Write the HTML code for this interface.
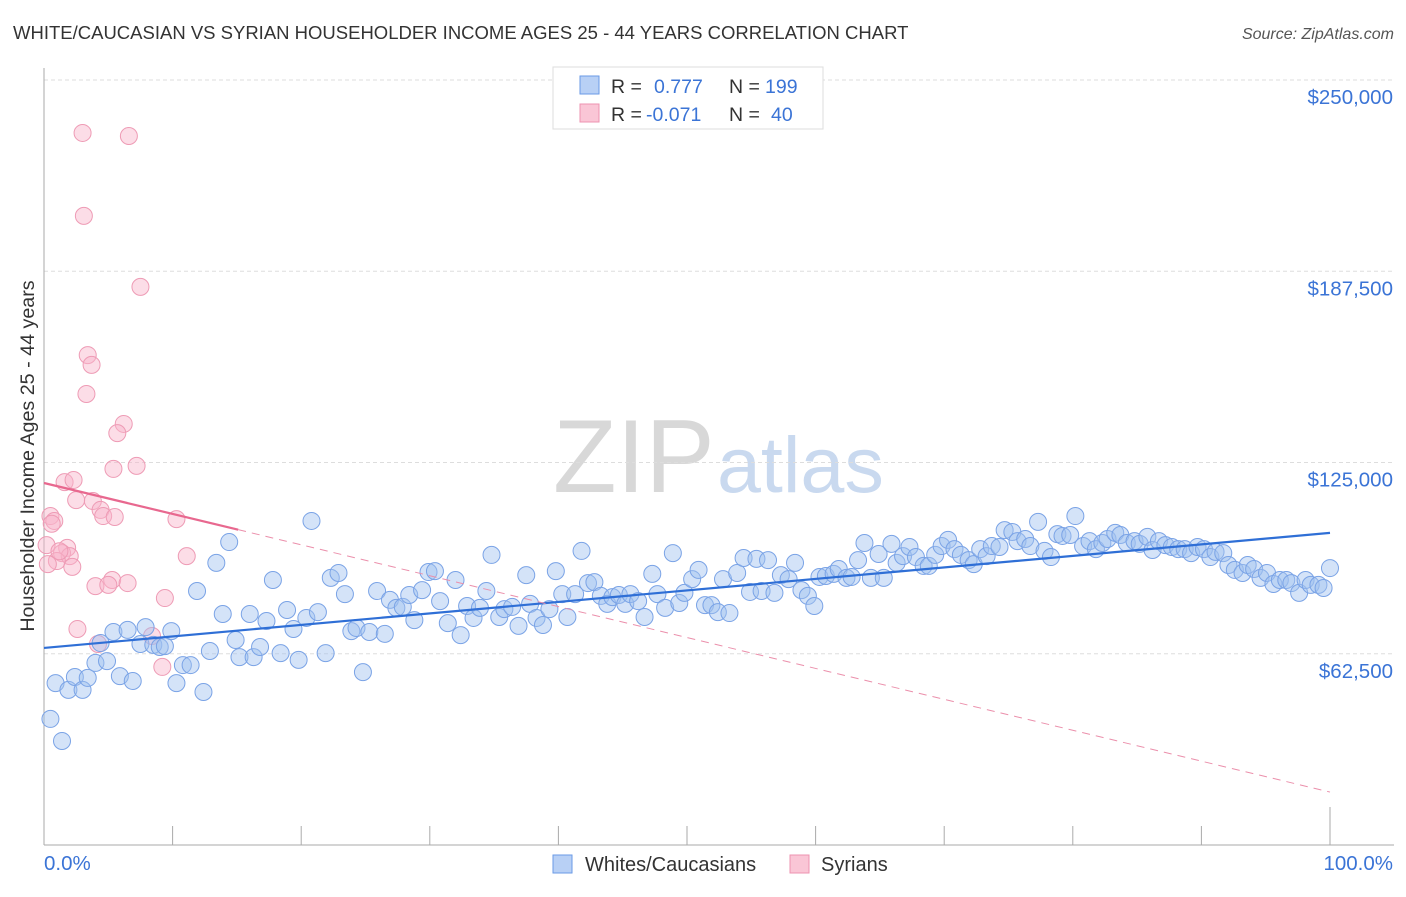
<!DOCTYPE html>
<html><head><meta charset="utf-8">
<style>
body{margin:0;background:#fff;font-family:"Liberation Sans",sans-serif;}
svg text{font-family:"Liberation Sans",sans-serif;}
</style></head>
<body>
<svg id="chart" width="1406" height="892" viewBox="0 0 1406 892">
  <text x="13" y="39" font-size="18.5" fill="#333">WHITE/CAUCASIAN VS SYRIAN HOUSEHOLDER INCOME AGES 25 - 44 YEARS CORRELATION CHART</text>
  <text x="1394" y="39" font-size="16" fill="#555" font-style="italic" text-anchor="end">Source: ZipAtlas.com</text>
  <g>
    <text x="553" y="492" font-size="104" fill="#d8d8d8" font-family="Liberation Serif, serif">ZIP</text>
    <text x="717" y="492" font-size="79" fill="#c9d9ef">atlas</text>
  </g>
  <g id="grid"></g>
  <g id="axes"></g>
  <g id="pinkpts"></g>
  <g id="bluepts"></g>
  <g id="lines"></g>
  <text transform="translate(34,456) rotate(-90)" font-size="19.7" fill="#333" text-anchor="middle">Householder Income Ages 25 - 44 years</text>
  <g>
    <rect x="553" y="67" width="270" height="62" fill="#fff" stroke="#ddd"/>
    <rect x="580" y="76" width="19" height="18" fill="#b8d0f5" stroke="#6a9ae6"/>
    <rect x="580" y="104" width="19" height="18" fill="#fac6d6" stroke="#ee93b0"/>
    <text x="611" y="93" font-size="19.5" fill="#333">R = <tspan x="654" fill="#3b74d6">0.777</tspan><tspan x="729" fill="#333">N =</tspan><tspan x="765" fill="#3b74d6">199</tspan></text>
    <text x="611" y="121" font-size="19.5" fill="#333">R = <tspan x="646" fill="#3b74d6">-0.071</tspan><tspan x="729" fill="#333">N =</tspan><tspan x="771" fill="#3b74d6">40</tspan></text>
  </g>
  <g>
    <rect x="553" y="855" width="19" height="18" fill="#b8d0f5" stroke="#6a9ae6"/>
    <text x="585" y="871" font-size="20" fill="#333">Whites/Caucasians</text>
    <rect x="790" y="855" width="19" height="18" fill="#fac6d6" stroke="#ee93b0"/>
    <text x="821" y="871" font-size="20" fill="#333">Syrians</text>
  </g>
</svg>
<script>
const yTicks=[62500,125000,187500,250000];
const yTickLabels=["$62,500","$125,000","$187,500","$250,000"];
const xTickLabels=["0.0%","100.0%"];
const blueX=[0.5,1.4,0.9,1.9,2.4,3.0,3.4,4.0,4.4,4.9,5.4,5.9,6.5,6.9,7.5,7.9,8.5,9.0,9.4,9.9,10.3,10.8,11.4,11.9,12.4,12.9,13.4,13.9,14.4,14.9,15.2,16.0,16.3,16.8,17.3,17.8,18.4,18.9,19.4,19.8,20.4,20.8,21.3,21.9,22.3,22.9,23.4,23.9,24.3,24.8,25.3,25.9,26.5,26.9,27.4,27.9,28.4,28.8,29.4,29.9,30.4,30.8,31.4,32.0,32.4,32.9,33.4,33.9,34.4,34.8,35.4,35.8,36.4,36.9,37.5,37.8,38.3,38.8,39.3,39.8,40.3,40.7,41.3,41.8,42.3,42.8,43.3,43.8,44.2,44.7,45.2,45.6,46.2,46.7,47.3,47.7,48.3,48.9,49.4,49.8,50.4,50.9,51.4,51.9,52.4,52.8,53.3,53.9,54.4,54.9,55.4,55.8,56.3,56.8,57.3,57.9,58.4,58.9,59.4,59.9,60.3,60.8,61.4,61.8,62.4,62.8,63.3,63.8,64.3,64.9,65.3,65.9,66.3,66.8,67.3,67.8,68.4,68.8,69.3,69.8,70.3,70.8,71.3,71.9,72.3,72.8,73.3,73.7,74.3,74.7,75.3,75.7,76.3,76.7,77.3,77.8,78.3,78.8,79.2,79.8,80.2,80.8,81.3,81.8,82.3,82.7,83.3,83.7,84.2,84.8,85.2,85.8,86.2,86.7,87.2,87.7,88.2,88.7,89.2,89.7,90.2,90.7,91.1,91.7,92.1,92.6,93.2,93.6,94.1,94.6,95.1,95.6,96.1,96.6,97.0,97.6,98.1,98.5,99.1,99.5,100.0];
const blueY=[41.2,34.0,52.9,50.7,54.9,50.7,54.6,59.5,66.0,60.1,69.6,55.2,70.3,53.6,65.7,71.2,65.4,64.7,65.0,69.9,52.9,58.8,58.8,83.0,50.0,63.4,92.2,75.5,99.0,67.0,61.4,75.5,61.4,64.7,73.2,86.6,62.7,76.8,70.6,60.5,74.2,105.9,76.1,62.7,87.3,88.9,82.0,69.9,70.9,56.5,69.6,83.0,69.0,80.1,77.5,77.8,81.7,73.5,83.3,89.2,89.5,79.7,72.5,86.6,68.6,78.1,74.2,77.5,83.0,94.8,74.5,77.1,77.8,71.6,88.2,78.8,74.2,71.9,77.1,89.5,82.0,74.5,82.0,96.1,85.6,85.9,81.4,78.8,81.0,81.7,78.8,82.0,79.7,74.5,88.6,82.0,77.5,95.4,79.1,82.4,86.9,89.9,78.4,78.4,76.1,86.9,75.8,88.9,93.8,82.7,93.5,83.0,93.1,82.4,88.2,86.9,92.2,83.3,81.4,78.1,87.6,87.9,88.6,90.2,87.3,87.6,93.1,98.7,87.3,95.1,87.3,98.4,92.2,94.4,97.4,94.1,91.2,91.2,94.8,97.7,99.7,96.7,94.8,93.1,91.8,96.7,94.4,97.7,97.4,102.9,102.3,99.3,100.0,97.7,105.6,96.1,94.1,101.6,101.0,101.3,107.5,97.7,99.3,96.7,98.7,100.0,102.0,101.3,98.7,99.3,98.4,100.7,96.4,99.3,98.0,97.4,96.7,96.7,95.4,97.4,96.7,94.1,95.8,95.4,91.5,89.9,88.9,91.5,90.2,87.3,88.9,85.3,86.6,86.6,85.6,82.4,86.6,85.0,85.0,84.0,90.5];
const pinkX=[3.0,6.6,3.1,7.5,3.4,3.7,3.3,6.2,5.7,7.2,5.4,1.6,2.3,2.5,3.8,0.5,0.8,4.4,4.6,5.5,10.3,0.2,1.8,1.4,2.0,1.0,0.3,2.2,11.1,5.3,4.0,5.0,6.5,9.4,2.6,8.4,4.2,9.2,0.6,1.2];
const pinkY=[232.7,231.7,205.6,182.4,160.1,156.9,147.4,137.6,134.6,123.9,122.9,118.6,119.3,112.7,112.4,107.5,105.9,109.5,107.5,107.2,106.5,98.0,97.1,95.4,94.4,92.8,91.8,90.9,94.4,86.6,84.6,85.0,85.6,80.7,70.6,68.3,65.7,58.2,105.0,96.0];
const blueTrend=[64.4,102.0];
const pinkTrend=[118.3,17.3];
const pinkSolidEnd=15.1;

const NS="http://www.w3.org/2000/svg";
const X0=44,X1=1330,YB=845,YT=80;
function sx(p){return X0+(X1-X0)*p/100;}
function sy(v){return YB-(YB-YT)*v/250000;}
function mk(tag,attrs,parent){const e=document.createElementNS(NS,tag);for(const k in attrs)e.setAttribute(k,attrs[k]);parent.appendChild(e);return e;}
const grid=document.getElementById('grid'),axes=document.getElementById('axes');
yTicks.forEach((t,i)=>{
  const l=mk('line',{x1:X0,x2:1394,y1:sy(t),y2:sy(t),stroke:'#ddd','stroke-dasharray':'4,3'},grid);
  
  
  const tx=mk('text',{x:1393,y:sy(t)+24,'font-size':20.5,fill:'#3b74d6','text-anchor':'end'},axes);
  tx.textContent=yTickLabels[i];
  
  
});
const ya=mk('line',{x1:X0,x2:X0,y1:68,y2:YB,stroke:'#aaa'},axes);


const xa=mk('line',{x1:X0,x2:1394,y1:YB,y2:YB,stroke:'#aaa'},axes);


for(let i=1;i<=10;i++){
  const tk=mk('line',{x1:sx(i*10),x2:sx(i*10),y1:i==10?807:826,y2:YB,stroke:'#aaa'},axes);
  
  
}
const xl0=mk('text',{x:44,y:870,'font-size':20.5,fill:'#3b74d6'},axes);
xl0.textContent=xTickLabels[0];


const xl1=mk('text',{x:1393,y:870,'font-size':20.5,fill:'#3b74d6','text-anchor':'end'},axes);
xl1.textContent=xTickLabels[1];



const pp=document.getElementById('pinkpts');
pinkX.forEach((x,i)=>{
  const c=mk('circle',{cx:sx(x),cy:sy(pinkY[i]*1000),r:8.5,fill:'rgba(248,180,202,0.45)',stroke:'#ee9bb5','stroke-width':1},pp);
  
  
});
const bp=document.getElementById('bluepts');
blueX.forEach((x,i)=>{
  const c=mk('circle',{cx:sx(x),cy:sy(blueY[i]*1000),r:8.5,fill:'rgba(160,192,240,0.45)',stroke:'#7aa3e6','stroke-width':1},bp);
  
  
});
const lg=document.getElementById('lines');
const bl=mk('line',{x1:sx(0),y1:sy(blueTrend[0]*1000),x2:sx(100),y2:sy(blueTrend[1]*1000),stroke:'#2f6fd6','stroke-width':2.2},lg);


const pv=p=>pinkTrend[0]+(pinkTrend[1]-pinkTrend[0])*p/100;
const pd=mk('line',{x1:sx(pinkSolidEnd),y1:sy(pv(pinkSolidEnd)*1000),x2:sx(100),y2:sy(pinkTrend[1]*1000),stroke:'#eb8fab','stroke-width':1,'stroke-dasharray':'8,6'},lg);


const ps=mk('line',{x1:sx(0),y1:sy(pinkTrend[0]*1000),x2:sx(pinkSolidEnd),y2:sy(pv(pinkSolidEnd)*1000),stroke:'#e8688f','stroke-width':2.2},lg);


</script>
</body></html>
